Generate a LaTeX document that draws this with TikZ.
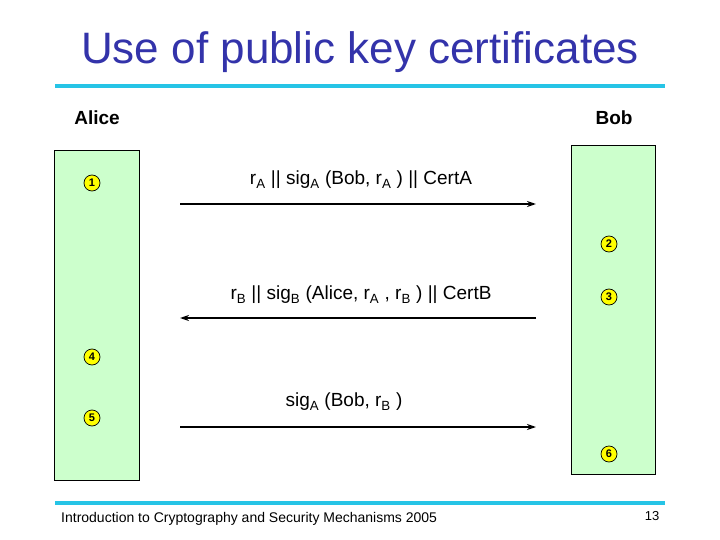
\documentclass[tikz,border=0pt]{standalone}
\usepackage{fontspec}
\setmainfont{Liberation Sans}
\usetikzlibrary{arrows.meta}
\definecolor{titleblue}{RGB}{51,51,170}
\definecolor{rulecyan}{RGB}{38,196,230}
\definecolor{boxgreen}{RGB}{204,255,204}
\definecolor{stepyellow}{RGB}{255,255,0}
\newcommand{\sbs}[1]{\textsubscript{#1}}
\begin{document}
\begin{tikzpicture}[x=1pt,y=-1pt,
  party/.style={draw=black,line width=0.9pt,fill=boxgreen},
  rulebar/.style={draw=rulecyan,line width=4pt},
  numcircle/.style={circle,draw=black,line width=0.7pt,fill=stepyellow,inner sep=0pt,minimum size=16pt,font=\fontsize{11}{11}\selectfont\bfseries},
  msg/.style={line width=1.6pt,-{Stealth[length=9pt,width=6pt]}},
  msgtext/.style={font=\fontsize{19}{22}\selectfont,inner sep=0pt},
  who/.style={font=\fontsize{19}{22}\selectfont\bfseries,inner sep=0pt}]
\useasboundingbox (0,0) rectangle (720,540);
\node[font=\fontsize{44}{50}\selectfont,text=titleblue,inner sep=0pt] (title) at (360,52) {Use of public key certificates};
\draw[rulebar] (55,86) -- (665,86);
\node[who] (alice) at (97,118) {Alice};
\node[who] (bob) at (614,118) {Bob};
\draw[party] (54,150) rectangle (139,480);
\draw[party] (571,145) rectangle (655,474);
\node[numcircle] (n1) at (92,183) {1};
\node[numcircle] (n2) at (609,244) {2};
\node[numcircle] (n3) at (609,297) {3};
\node[numcircle] (n4) at (92,357) {4};
\node[numcircle] (n5) at (92,418) {5};
\node[numcircle] (n6) at (609,454) {6};
\coordinate (a1) at (180,204); \coordinate (b1) at (536,204);
\coordinate (a2) at (180,318); \coordinate (b2) at (536,318);
\coordinate (a3) at (180,427); \coordinate (b3) at (536,427);
\draw[msg] (a1) -- (b1);
\draw[msg] (b2) -- (a2);
\draw[msg] (a3) -- (b3);
\node[msgtext] (m1) at (361,180) {r\sbs{A} || sig\sbs{A} (Bob, r\sbs{A} ) || CertA};
\node[msgtext] (m2) at (361,295) {r\sbs{B} || sig\sbs{B} (Alice, r\sbs{A} , r\sbs{B} ) || CertB};
\node[msgtext] (m3) at (344,402) {sig\sbs{A} (Bob, r\sbs{B} )};
\draw[rulebar] (55,503) -- (665,503);
\node[font=\fontsize{14}{16}\selectfont,anchor=west,inner sep=0pt] (foot) at (61,519) {Introduction to Cryptography and Security Mechanisms 2005};
\node[font=\fontsize{13}{15}\selectfont,inner sep=0pt] (page) at (652,516) {13};
\end{tikzpicture}
\end{document}
